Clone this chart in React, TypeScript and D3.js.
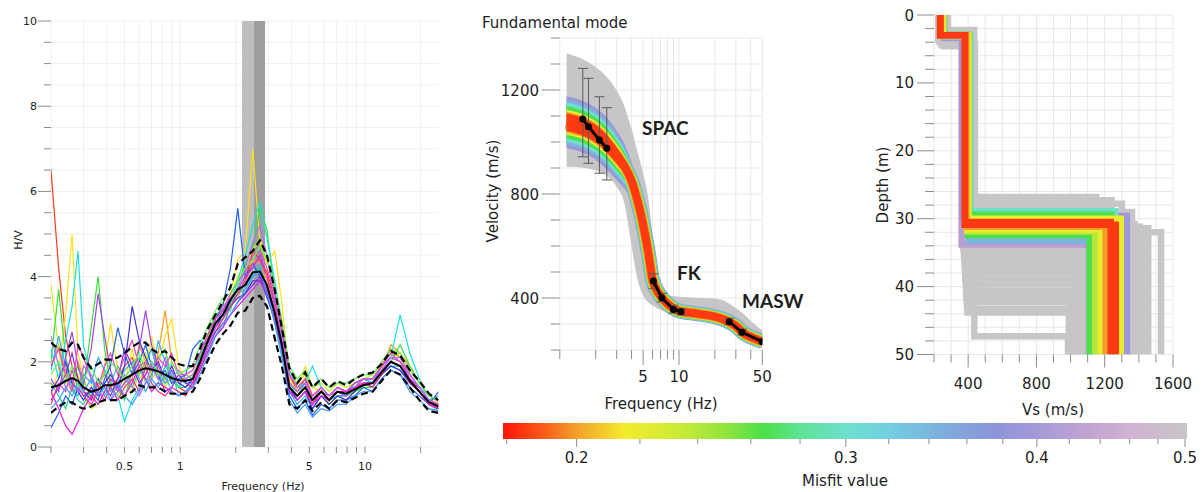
import * as d3 from "d3";

// Three panels: H/V curves, dispersion curves, Vs profiles + misfit colour bar

const FONT = "DejaVu Sans, Verdana, sans-serif";
const TICK = "#8c8c8c";
const TXT = "#1e1e1e";

// ---------- H/V data ----------
const HV_FREQ = [0.2, 0.22, 0.24, 0.26, 0.28, 0.3, 0.33, 0.36, 0.39, 0.42, 0.46, 0.5, 0.55, 0.6, 0.65, 0.7, 0.76, 0.83, 0.9, 0.98, 1.07, 1.17, 1.28, 1.4, 1.55, 1.7, 1.87, 2.05, 2.25, 2.47, 2.7, 2.95, 3.25, 3.55, 3.9, 4.3, 4.75, 5.2, 5.8, 6.4, 7.1, 7.9, 8.8, 9.8, 11, 12.3, 13.8, 15.5, 17.5, 19.7, 22.2, 25];
const HV_MEAN = [1.4, 1.45, 1.55, 1.62, 1.55, 1.4, 1.3, 1.35, 1.45, 1.45, 1.5, 1.6, 1.7, 1.8, 1.85, 1.82, 1.78, 1.7, 1.62, 1.57, 1.55, 1.6, 2.0, 2.45, 2.9, 3.1, 3.45, 3.7, 3.8, 4.1, 4.12, 3.8, 3.15, 2.4, 1.4, 1.2, 1.4, 1.1, 1.3, 1.1, 1.3, 1.25, 1.35, 1.45, 1.5, 1.75, 2.0, 1.9, 1.55, 1.3, 1.05, 0.95];
const HV_UPPER = [2.45, 2.3, 2.25, 2.45, 2.4, 2.1, 1.85, 1.95, 2.05, 2.05, 2.1, 2.2, 2.35, 2.45, 2.45, 2.3, 2.2, 2.25, 2.1, 1.95, 1.9, 1.9, 2.3, 2.75, 3.1, 3.4, 3.75, 4.3, 4.45, 4.6, 4.85, 4.5, 3.7, 2.8, 1.85, 1.5, 1.75, 1.4, 1.6, 1.4, 1.55, 1.45, 1.6, 1.7, 1.75, 1.95, 2.25, 2.15, 1.8, 1.55, 1.25, 1.1];
const HV_LOWER = [0.8, 0.95, 1.05, 1.05, 0.95, 0.9, 0.95, 1.05, 1.1, 1.1, 1.1, 1.2, 1.3, 1.45, 1.4, 1.4, 1.4, 1.3, 1.25, 1.25, 1.25, 1.3, 1.6, 2.0, 2.4, 2.65, 2.85, 3.15, 3.2, 3.5, 3.55, 3.3, 2.55, 1.9, 1.0, 0.9, 1.1, 0.85, 1.05, 0.9, 1.1, 1.05, 1.15, 1.25, 1.3, 1.55, 1.8, 1.7, 1.4, 1.1, 0.85, 0.8];
const HV_BAND_LIGHT = [2.16, 2.51];
const HV_BAND_DARK = [2.51, 2.88];

// single-window curves
const HV_C01 = [6.5, 4.2, 2.6, 1.9, 1.6, 1.3, 1.2, 1.5, 1.7, 1.4, 1.6, 1.9, 2.1, 1.7, 2.0, 2.3, 1.8, 1.5, 1.6, 1.4, 1.3, 1.5, 1.9, 2.3, 2.7, 3.0, 3.3, 3.6, 3.9, 4.6, 4.4, 4.1, 3.5, 2.8, 1.7, 1.3, 1.6, 1.2, 1.4, 1.2, 1.4, 1.3, 1.4, 1.6, 1.6, 1.9, 2.3, 2.1, 1.7, 1.4, 1.1, 1.0];
const HV_C02 = [1.9, 2.4, 1.8, 1.4, 2.0, 1.6, 1.1, 1.3, 1.8, 1.5, 1.3, 1.2, 1.6, 2.4, 2.0, 1.7, 2.2, 3.2, 2.0, 1.7, 1.5, 1.4, 1.8, 2.2, 2.6, 2.8, 3.4, 3.5, 3.9, 4.4, 4.3, 3.9, 3.4, 2.6, 1.6, 1.5, 1.7, 1.2, 1.4, 1.0, 1.2, 1.1, 1.3, 1.5, 1.4, 1.8, 2.4, 2.2, 1.9, 1.5, 1.2, 1.05];
const HV_C03 = [1.2, 1.8, 3.1, 5.0, 2.2, 1.7, 1.5, 1.2, 1.9, 2.9, 1.8, 1.5, 2.3, 1.6, 1.8, 2.6, 1.9, 2.6, 3.0, 1.9, 1.6, 1.5, 2.0, 2.5, 3.1, 3.2, 3.6, 4.4, 4.6, 7.0, 4.8, 4.3, 4.6, 3.4, 1.6, 1.3, 1.9, 1.4, 1.3, 1.2, 1.3, 1.2, 1.4, 1.5, 1.5, 1.9, 2.1, 2.2, 1.8, 1.5, 1.2, 1.1];
const HV_C04 = [3.8, 2.3, 1.6, 1.3, 1.7, 1.2, 0.9, 1.0, 1.3, 1.4, 1.2, 1.5, 1.3, 1.7, 2.2, 1.6, 1.8, 1.4, 1.7, 1.5, 1.6, 1.7, 2.1, 2.5, 3.0, 3.4, 3.5, 4.0, 4.3, 4.6, 4.9, 4.4, 3.7, 2.9, 1.8, 1.5, 1.7, 1.4, 1.5, 1.3, 1.5, 1.4, 1.5, 1.6, 1.7, 1.9, 2.2, 2.1, 1.6, 1.4, 1.1, 1.0];
const HV_C05 = [2.0, 3.7, 2.1, 1.5, 1.9, 1.4, 2.8, 4.0, 2.3, 1.5, 1.4, 1.1, 1.8, 2.1, 1.5, 1.7, 2.1, 2.3, 1.6, 1.4, 1.7, 1.6, 2.1, 2.6, 3.1, 3.2, 3.2, 3.8, 4.3, 4.7, 5.6, 5.1, 3.6, 2.5, 1.4, 1.1, 1.3, 1.0, 1.2, 1.0, 1.2, 1.2, 1.3, 1.4, 1.4, 1.8, 2.0, 2.4, 1.9, 1.5, 1.2, 1.1];
const HV_C06 = [1.5, 1.2, 0.9, 1.4, 1.1, 1.0, 1.3, 1.6, 1.2, 1.5, 1.9, 1.6, 1.4, 1.8, 1.6, 1.4, 1.5, 1.9, 1.7, 1.4, 1.4, 1.6, 1.9, 2.4, 2.9, 3.0, 3.4, 3.6, 3.7, 4.0, 4.2, 3.8, 3.2, 2.5, 1.5, 1.2, 1.5, 1.1, 1.3, 1.1, 1.3, 1.3, 1.4, 1.5, 1.5, 1.7, 1.9, 1.9, 1.5, 1.3, 1.0, 0.9];
const HV_C07 = [2.3, 1.6, 2.5, 3.3, 4.6, 2.4, 1.6, 1.3, 1.1, 1.4, 1.2, 0.6, 1.1, 1.4, 1.9, 2.3, 1.7, 1.5, 1.8, 1.2, 1.3, 1.5, 2.2, 2.4, 2.8, 3.0, 3.4, 3.9, 4.5, 5.2, 5.75, 4.9, 3.9, 2.9, 1.8, 1.4, 1.5, 1.9, 1.4, 1.2, 1.4, 1.3, 1.5, 1.6, 1.5, 1.9, 2.1, 3.1, 2.2, 1.6, 1.0, 0.85];
const HV_C08 = [1.8, 2.6, 1.9, 1.4, 1.2, 1.7, 1.5, 2.1, 1.8, 1.3, 1.5, 1.8, 2.0, 1.6, 1.3, 1.6, 2.5, 2.0, 1.5, 1.6, 1.5, 1.5, 1.8, 2.2, 2.6, 2.8, 3.3, 3.6, 3.8, 4.0, 4.3, 3.6, 2.9, 2.1, 1.3, 1.0, 1.2, 0.9, 1.2, 1.1, 1.2, 1.2, 1.5, 1.6, 1.5, 1.7, 1.9, 1.8, 1.5, 1.4, 1.1, 1.2];
const HV_C09 = [0.45, 0.8, 1.2, 1.0, 1.4, 1.2, 1.3, 1.1, 1.6, 1.9, 2.8, 2.2, 1.7, 2.0, 2.4, 1.9, 1.6, 1.8, 1.5, 1.6, 1.7, 2.3, 2.5, 2.4, 3.0, 3.3, 4.2, 5.6, 4.0, 4.3, 4.0, 3.5, 3.0, 2.3, 1.2, 0.9, 1.1, 0.75, 1.0, 0.9, 1.1, 1.1, 1.2, 1.4, 1.3, 1.6, 1.8, 1.7, 1.4, 1.2, 1.0, 1.3];
const HV_C10 = [1.3, 1.6, 2.0, 1.5, 1.3, 1.1, 1.4, 1.2, 1.5, 1.7, 1.4, 1.9, 3.3, 2.5, 2.1, 1.8, 2.0, 1.6, 1.9, 1.5, 1.4, 1.6, 2.0, 2.4, 2.8, 3.1, 3.3, 3.5, 3.6, 3.9, 3.9, 3.6, 3.0, 2.3, 1.4, 1.1, 1.3, 0.9, 1.2, 1.0, 1.2, 1.1, 1.3, 1.5, 1.4, 1.7, 1.9, 1.8, 1.5, 1.3, 1.0, 0.9];
const HV_C11 = [1.1, 1.4, 1.7, 2.2, 1.6, 1.3, 1.1, 1.6, 1.4, 1.2, 1.6, 2.3, 1.9, 1.5, 1.7, 2.0, 1.7, 1.3, 1.4, 1.7, 1.5, 1.4, 1.9, 2.3, 2.7, 2.9, 3.1, 3.4, 3.6, 3.8, 4.0, 3.7, 3.1, 2.4, 1.3, 1.2, 1.4, 1.0, 1.3, 1.1, 1.3, 1.2, 1.4, 1.5, 1.5, 1.8, 2.0, 1.9, 1.6, 1.3, 1.0, 0.9];
const HV_C12 = [1.6, 1.3, 2.1, 2.7, 1.9, 1.5, 2.3, 3.6, 2.6, 1.8, 1.3, 1.5, 1.7, 2.3, 3.2, 2.4, 1.9, 1.6, 1.8, 1.5, 1.6, 1.5, 2.0, 2.5, 2.9, 3.2, 3.5, 3.7, 4.0, 4.2, 4.5, 4.0, 3.4, 2.7, 1.5, 1.3, 1.5, 1.1, 1.3, 1.2, 1.4, 1.3, 1.4, 1.6, 1.6, 1.9, 2.1, 2.0, 1.6, 1.4, 1.1, 1.0];
const HV_C13 = [1.3, 0.9, 0.5, 0.3, 0.6, 0.9, 1.2, 1.0, 1.3, 1.6, 1.4, 1.2, 1.5, 1.9, 1.6, 1.3, 1.5, 1.4, 1.3, 1.2, 1.3, 1.4, 1.8, 2.2, 2.6, 2.8, 3.1, 3.3, 3.5, 3.7, 3.9, 3.6, 3.0, 2.3, 1.3, 1.1, 1.3, 1.0, 1.2, 1.1, 1.3, 1.3, 1.4, 1.5, 1.5, 1.8, 2.0, 1.9, 1.6, 1.3, 1.0, 0.9];
const HV_C14 = [1.9, 2.3, 1.7, 1.3, 2.4, 2.1, 1.6, 1.4, 1.9, 2.2, 1.7, 2.1, 2.5, 1.9, 2.0, 1.8, 2.1, 1.9, 2.2, 1.7, 1.7, 1.8, 2.2, 2.6, 3.0, 3.2, 3.6, 3.9, 4.1, 4.5, 4.6, 4.2, 3.6, 2.9, 1.7, 1.4, 1.6, 1.2, 1.4, 1.2, 1.4, 1.3, 1.5, 1.6, 1.6, 1.9, 2.2, 2.0, 1.7, 1.4, 1.1, 1.0];
const HV_C15 = [1.0, 1.5, 1.3, 1.8, 1.4, 1.2, 1.0, 1.3, 1.1, 1.4, 1.1, 1.4, 1.6, 1.3, 1.9, 1.5, 1.3, 1.2, 1.4, 1.3, 1.2, 1.5, 1.9, 2.4, 2.8, 3.0, 3.3, 3.6, 3.9, 4.3, 4.4, 4.0, 3.3, 2.6, 1.4, 1.2, 1.4, 1.0, 1.3, 1.1, 1.3, 1.2, 1.4, 1.5, 1.4, 1.7, 2.0, 1.9, 1.5, 1.3, 1.0, 0.9];
const HV_C16 = [2.6, 1.9, 1.4, 1.6, 1.3, 1.9, 1.7, 1.3, 1.2, 1.1, 1.3, 1.7, 1.4, 1.2, 1.5, 1.9, 1.6, 2.1, 1.6, 1.8, 1.6, 1.7, 2.0, 2.3, 2.8, 3.3, 3.5, 3.7, 4.2, 4.8, 5.2, 4.5, 3.5, 2.6, 1.5, 1.3, 1.5, 1.1, 1.4, 1.2, 1.3, 1.2, 1.4, 1.6, 1.6, 1.8, 2.1, 2.1, 1.7, 1.4, 1.1, 0.95];
const HV_C17 = [0.9, 1.1, 1.4, 1.2, 1.5, 1.3, 1.6, 1.2, 1.4, 1.1, 1.5, 1.2, 1.0, 1.3, 1.5, 1.6, 1.4, 1.7, 1.3, 1.2, 1.3, 1.4, 1.7, 2.1, 2.6, 2.9, 3.1, 3.4, 3.7, 4.0, 4.1, 3.7, 2.9, 2.2, 1.1, 0.8, 1.0, 0.7, 0.9, 0.85, 1.0, 1.0, 1.2, 1.3, 1.3, 1.6, 1.8, 1.7, 1.3, 1.1, 0.9, 0.85];
const HV_C18 = [1.7, 2.0, 1.5, 1.9, 1.4, 1.6, 1.9, 1.5, 1.7, 2.0, 1.8, 1.6, 1.9, 2.2, 1.8, 2.0, 1.7, 1.6, 2.0, 1.7, 1.8, 1.9, 2.4, 2.8, 3.2, 3.5, 3.6, 3.9, 4.2, 4.4, 4.7, 4.4, 3.8, 3.0, 1.9, 1.6, 1.8, 1.4, 1.6, 1.4, 1.5, 1.5, 1.6, 1.7, 1.7, 2.0, 2.3, 2.2, 1.8, 1.5, 1.2, 1.1];
const HV_CURVES = [HV_C01, HV_C02, HV_C03, HV_C04, HV_C05, HV_C06, HV_C07, HV_C08, HV_C09, HV_C10, HV_C11, HV_C12, HV_C13, HV_C14, HV_C15, HV_C16, HV_C17, HV_C18];
const HV_COLORS = ["#ff3a1a", "#ff9a1a", "#ffe01a", "#c8f020", "#38e038", "#20d890", "#18e0e0", "#30b0f0", "#2060f0", "#4030e8", "#8a2be2", "#a040f0", "#e020e0", "#f040c0", "#ff30a0", "#b070ff", "#40a0ff", "#60f060"];

// ---------- dispersion data ----------
const DISP_F = [1.14, 1.25, 1.5, 1.75, 2, 2.5, 3, 3.5, 4, 4.5, 5, 5.5, 6, 6.5, 7, 8, 9, 10, 12, 15, 20, 25, 30, 35, 40, 50];
const DISP_BEST = [1076, 1072, 1062, 1048, 1032, 992, 948, 905, 850, 772, 682, 580, 470, 430, 408, 378, 360, 350, 344, 338, 328, 313, 292, 264, 250, 233];
const DISP_GRAY_HI = [1340, 1335, 1322, 1306, 1288, 1248, 1198, 1135, 1050, 960, 880, 790, 640, 520, 440, 412, 408, 405, 403, 400, 398, 385, 362, 338, 312, 276];
const DISP_GRAY_LO = [905, 905, 902, 898, 890, 868, 828, 760, 600, 470, 410, 385, 372, 362, 355, 345, 338, 332, 327, 320, 303, 283, 262, 244, 230, 205];
const DISP_HW_PURPLE = [100, 100, 100, 100, 100, 100, 95, 85, 70, 55, 45, 38, 32, 28, 25, 22, 22, 22, 22, 22, 22, 22, 20, 20, 18, 16];
const DISP_HW_BLUE = [85, 85, 85, 85, 85, 85, 80, 72, 60, 48, 40, 34, 28, 25, 22, 20, 20, 20, 20, 20, 20, 20, 18, 18, 16, 15];
const DISP_HW_CYAN = [75, 75, 75, 75, 75, 74, 70, 63, 52, 42, 35, 30, 25, 22, 20, 18, 18, 18, 18, 18, 18, 18, 16, 16, 15, 14];
const DISP_HW_GREEN = [62, 62, 62, 62, 62, 60, 57, 52, 44, 36, 30, 26, 22, 20, 18, 17, 17, 17, 17, 17, 17, 16, 15, 15, 14, 13];
const DISP_HW_YELLOW = [48, 48, 48, 48, 48, 47, 45, 41, 35, 29, 25, 22, 19, 17, 16, 15, 15, 15, 15, 15, 15, 14, 14, 13, 13, 12];
const DISP_HW_ORANGE = [40, 40, 40, 40, 40, 39, 37, 34, 29, 25, 21, 19, 17, 15, 14, 14, 14, 14, 14, 14, 14, 13, 13, 12, 12, 11];
const DISP_HW_RED = [34, 34, 34, 34, 34, 33, 31, 28, 25, 21, 18, 16, 15, 14, 13, 13, 13, 13, 13, 13, 13, 12, 12, 11, 11, 10];
const DISP_LEVEL_HW = [DISP_HW_PURPLE, DISP_HW_BLUE, DISP_HW_CYAN, DISP_HW_GREEN, DISP_HW_YELLOW, DISP_HW_ORANGE, DISP_HW_RED];
const DISP_LEVEL_MISFIT = [0.39, 0.34, 0.3, 0.265, 0.22, 0.2, 0.185];
const DISP_LEVEL_WIDTH = [15, 14, 13, 12, 11, 10, 8];

const SPAC_F = [1.56, 1.74, 2.15, 2.48];
const SPAC_V = [1088, 1059, 1008, 976];
const SPAC_LO = [943, 918, 880, 854];
const SPAC_HI = [1283, 1245, 1174, 1132];
const FK_F = [6.1, 7.18, 8.99, 10.4];
const FK_V = [465, 401, 356, 347];
const FK_LO = [437, 385, 342, 335];
const FK_HI = [493, 418, 372, 360];
const MASW_F = [26.4, 33.8, 50];
const MASW_V = [309, 268, 232];
const MASW_LO = [298, 258, 224];
const MASW_HI = [322, 280, 242];

// ---------- Vs profiles (3-layer models) ----------
const PROF_VS1 = [270, 280, 230, 260, 250, 240, 275, 265, 245, 255, 235, 262, 248, 272, 238, 258, 244, 268, 252, 242, 266, 250, 225, 258, 252, 260, 250, 255, 248, 252, 256, 245, 250, 240, 235, 238];
const PROF_H1 = [4.5, 2.2, 3.8, 4.2, 2.6, 3.5, 4.0, 3.0, 4.4, 3.3, 4.1, 3.6, 2.8, 3.9, 3.2, 4.6, 3.7, 2.9, 4.3, 3.4, 3.1, 4.0, 3.5, 3.6, 3.2, 3.4, 3.0, 3.1, 3.0, 2.9, 3.0, 3.1, 3.0, 3.0, 3.0, 3.0];
const PROF_VS2 = [440, 435, 430, 420, 425, 415, 410, 400, 405, 372, 375, 378, 380, 382, 384, 386, 388, 390, 392, 394, 396, 436, 365, 418, 362, 368, 405, 412, 406, 400, 398, 402, 396, 390, 382, 380];
const PROF_D2 = [26.8, 27.3, 27.8, 28.2, 30.8, 31.2, 31.6, 31.4, 32.0, 34.3, 35.2, 36.1, 37.0, 37.9, 38.8, 39.7, 40.6, 41.5, 42.3, 43.3, 43.8, 47.3, 33.0, 29.0, 33.8, 29.6, 33.2, 28.9, 29.4, 32.4, 31.9, 30.0, 31.6, 31.2, 30.5, 30.9];
const PROF_VS3 = [1150, 1240, 1300, 1200, 1375, 1405, 1440, 1455, 1530, 1090, 1080, 1070, 1060, 1050, 1040, 1030, 1020, 1010, 1000, 995, 990, 985, 1345, 1360, 1108, 1330, 1112, 1260, 1240, 1112, 1145, 1294, 1178, 1205, 1235, 1265];
const PROF_MISFIT = [0.5, 0.5, 0.5, 0.5, 0.5, 0.5, 0.5, 0.5, 0.5, 0.5, 0.5, 0.5, 0.5, 0.5, 0.5, 0.5, 0.5, 0.5, 0.5, 0.5, 0.5, 0.5, 0.5, 0.5, 0.42, 0.39, 0.34, 0.3, 0.265, 0.265, 0.24, 0.22, 0.22, 0.2, 0.185, 0.185];

// ---------- colour map ----------
const CMAP_STOPS = [0.18, 0.19, 0.2, 0.215, 0.235, 0.25, 0.265, 0.28, 0.3, 0.32, 0.345, 0.375, 0.4, 0.43, 0.46, 0.5];
const CMAP_COLORS = ["#ff1a0a", "#fa5a18", "#f2a02a", "#f4ec2c", "#c6ea38", "#92e43e", "#4ce04a", "#5ee294", "#6ee0cc", "#72cfe2", "#7cb0dc", "#8c94d8", "#a49ad8", "#c0a2d2", "#d0b2d2", "#c8c5c8"];
const CBAR_LABELS = [0.2, 0.3, 0.4, 0.5];

const cmap = d3.scaleLinear<string>().domain(CMAP_STOPS).range(CMAP_COLORS).clamp(true);

// scales
const xL = d3.scaleLog().domain([0.2, 25]).range([51, 438.5]);
const yL = d3.scaleLinear().domain([0, 10]).range([447, 21]);
const xM = d3.scaleLog().domain([1, 50]).range([559.8, 762.3]);
const yM = d3.scaleLinear().domain([200, 1400]).range([350, 38]);
const xR = d3.scaleLinear().domain([200, 1600]).range([934, 1173]);
const yR = d3.scaleLinear().domain([0, 50]).range([15, 354.5]);
const xC = d3.scaleLog().domain([0.179, 0.5015]).range([503, 1187]);

function HVPanel() {
  const [x0, x1] = xL.range();
  const [yb, yt] = yL.range();
  const line = d3
    .line<number>()
    .x((_d, i) => xL(HV_FREQ[i]))
    .y((d) => yL(d));
  return (
    <g>
      <defs>
        <clipPath id="clipL">
          <rect x={x0} y={yt} width={x1 - x0} height={yb - yt} />
        </clipPath>
      </defs>
      {xL.ticks().map((t) => (
        <line key={"gx" + t} x1={xL(t)} x2={xL(t)} y1={yt} y2={yb} stroke="#f0f0f0" />
      ))}
      {yL.ticks(20).map((t) => (
        <line key={"gy" + t} x1={x0} x2={x1} y1={yL(t)} y2={yL(t)} stroke="#f0f0f0" />
      ))}
      <rect x={xL(HV_BAND_LIGHT[0])} y={yt} width={xL(HV_BAND_LIGHT[1]) - xL(HV_BAND_LIGHT[0])} height={yb - yt} fill="#bebebe" />
      <rect x={xL(HV_BAND_DARK[0])} y={yt} width={xL(HV_BAND_DARK[1]) - xL(HV_BAND_DARK[0])} height={yb - yt} fill="#9e9e9e" />
      <g clipPath="url(#clipL)" fill="none">
        {HV_CURVES.map((c, i) => (
          <path key={i} d={line(c) || ""} stroke={HV_COLORS[i]} strokeWidth={1.2} />
        ))}
        <path d={line(HV_UPPER) || ""} stroke="#000" strokeWidth={2.2} strokeDasharray="7 4" />
        <path d={line(HV_LOWER) || ""} stroke="#000" strokeWidth={2.2} strokeDasharray="7 4" />
        <path d={line(HV_MEAN) || ""} stroke="#000" strokeWidth={2} />
      </g>
      {/* y axis */}
      {yL.ticks(20).map((t) => {
        const major = Math.abs(t % 2) < 1e-6;
        return <line key={"ty" + t} x1={x0 - (major ? 13 : 7)} x2={x0} y1={yL(t)} y2={yL(t)} stroke={TICK} />;
      })}
      {[0, 2, 4, 6, 8, 10].map((t) => (
        <text key={"ly" + t} x={37} y={yL(t) + 4} textAnchor="end" fontSize={11} fill={TXT}>
          {t}
        </text>
      ))}
      {/* x axis */}
      {xL.ticks().map((t) => (
        <line key={"tx" + t} x1={xL(t)} x2={xL(t)} y1={yb} y2={yb + 6} stroke={TICK} />
      ))}
      {[0.5, 1, 5, 10].map((t) => (
        <text key={"lx" + t} x={xL(t)} y={470} textAnchor="middle" fontSize={11} fill={TXT}>
          {t}
        </text>
      ))}
      <text x={263} y={490} textAnchor="middle" fontSize={11} fill={TXT}>
        Frequency (Hz)
      </text>
      <text transform={`translate(18,240) rotate(-90)`} textAnchor="middle" dy="0.35em" fontSize={11} fill={TXT}>
        H/V
      </text>
    </g>
  );
}

function DispersionPanel() {
  const [x0, x1] = xM.range();
  const [yb, yt] = yM.range();
  const center = d3
    .line<number>()
    .x((_d, i) => xM(DISP_F[i]))
    .y((d) => yM(d))
    .curve(d3.curveMonotoneX);
  const band = (lo: number[], hi: number[]) =>
    d3
      .area<number>()
      .x((_d, i) => xM(DISP_F[i]))
      .y0((_d, i) => yM(lo[i]))
      .y1((_d, i) => yM(hi[i]))
      .curve(d3.curveMonotoneX)(DISP_F) || "";
  const pts = d3
    .line<number>()
    .x((d) => xM(d));
  const groups = [
    { f: SPAC_F, v: SPAC_V, lo: SPAC_LO, hi: SPAC_HI },
    { f: FK_F, v: FK_V, lo: FK_LO, hi: FK_HI },
    { f: MASW_F, v: MASW_V, lo: MASW_LO, hi: MASW_HI },
  ];
  return (
    <g>
      <defs>
        <clipPath id="clipM">
          <rect x={x0} y={yt} width={x1 - x0} height={yb - yt} />
        </clipPath>
      </defs>
      {xM.ticks().map((t) => (
        <line key={"gx" + t} x1={xM(t)} x2={xM(t)} y1={yt} y2={yb} stroke="#e8e8e8" />
      ))}
      {yM.ticks(12).map((t) => (
        <line key={"gy" + t} x1={x0} x2={x1} y1={yM(t)} y2={yM(t)} stroke="#e8e8e8" />
      ))}
      <g clipPath="url(#clipM)">
        <path d={band(DISP_GRAY_LO, DISP_GRAY_HI)} fill={cmap(0.5)} />
        {DISP_LEVEL_HW.map((hw, k) => {
          const lo = DISP_BEST.map((v, i) => v - hw[i]);
          const hi = DISP_BEST.map((v, i) => v + hw[i]);
          const col = cmap(DISP_LEVEL_MISFIT[k]);
          return (
            <g key={k}>
              <path d={band(lo, hi)} fill={col} />
              <path d={center(DISP_BEST) || ""} fill="none" stroke={col} strokeWidth={DISP_LEVEL_WIDTH[k]} strokeLinejoin="round" />
            </g>
          );
        })}
        {groups.map((g, gi) => (
          <g key={gi}>
            {g.f.map((f, i) => (
              <g key={i} stroke="#5a5a5a" strokeWidth={1}>
                <line x1={xM(f)} x2={xM(f)} y1={yM(g.lo[i])} y2={yM(g.hi[i])} />
                <line x1={xM(f) - 5} x2={xM(f) + 5} y1={yM(g.lo[i])} y2={yM(g.lo[i])} />
                <line x1={xM(f) - 5} x2={xM(f) + 5} y1={yM(g.hi[i])} y2={yM(g.hi[i])} />
              </g>
            ))}
            <path
              d={pts.y((_d, i) => yM(g.v[i]))(g.f) || ""}
              fill="none"
              stroke="#000"
              strokeWidth={3}
            />
            {g.f.map((f, i) => (
              <circle key={"c" + i} cx={xM(f)} cy={yM(g.v[i])} r={3.5} fill="#000" />
            ))}
          </g>
        ))}
      </g>
      {/* axes */}
      {yM.ticks(12).map((t) => {
        const major = t % 400 === 0;
        return <line key={"ty" + t} x1={x0 - (major ? 18 : 9)} x2={x0} y1={yM(t)} y2={yM(t)} stroke={TICK} />;
      })}
      {[400, 800, 1200].map((t) => (
        <text key={"ly" + t} x={539} y={yM(t) + 5.5} textAnchor="end" fontSize={15} fill={TXT}>
          {t}
        </text>
      ))}
      {xM.ticks().map((t) => {
        const major = t === 5 || t === 10 || t === 50;
        return <line key={"tx" + t} x1={xM(t)} x2={xM(t)} y1={yb} y2={yb + (major ? 15 : 9)} stroke={TICK} />;
      })}
      {[5, 10, 50].map((t) => (
        <text key={"lx" + t} x={xM(t)} y={382} textAnchor="middle" fontSize={15} fill={TXT}>
          {t}
        </text>
      ))}
      <text x={661} y={409} textAnchor="middle" fontSize={15} fill={TXT}>
        Frequency (Hz)
      </text>
      <text transform={`translate(493,191) rotate(-90)`} textAnchor="middle" dy="0.35em" fontSize={15} fill={TXT}>
        Velocity (m/s)
      </text>
      <text x={482} y={28} fontSize={15} fill={TXT}>
        Fundamental mode
      </text>
      <g fontFamily="Lato, Open Sans, sans-serif" fontWeight="bold" fontSize={19} fill={TXT}>
        <text x={642} y={135}>SPAC</text>
        <text x={677} y={280}>FK</text>
        <text x={742} y={308}>MASW</text>
      </g>
    </g>
  );
}

function ProfilePanel() {
  const [x0, x1] = xR.range();
  const [yt, yb] = yR.range();
  const line = d3
    .line<[number, number]>()
    .x((d) => xR(d[0]))
    .y((d) => yR(d[1]));
  const order = d3.range(PROF_VS1.length).sort((a, b) => PROF_MISFIT[b] - PROF_MISFIT[a] || a - b);
  return (
    <g>
      <defs>
        <clipPath id="clipR">
          <rect x={x0} y={yt} width={x1 - x0} height={yb - yt} />
        </clipPath>
      </defs>
      {xR.ticks(14).map((t) => (
        <line key={"gx" + t} x1={xR(t)} x2={xR(t)} y1={yt} y2={yb} stroke="#e8e8e8" />
      ))}
      {yR.ticks(25).map((t) => (
        <line key={"gy" + t} x1={x0} x2={x1} y1={yR(t)} y2={yR(t)} stroke="#e8e8e8" />
      ))}
      <g clipPath="url(#clipR)" fill="none" strokeWidth={6.5} strokeLinejoin="miter">
        {order.map((i) => {
          const p: [number, number][] = [
            [PROF_VS1[i], 0],
            [PROF_VS1[i], PROF_H1[i]],
            [PROF_VS2[i], PROF_H1[i]],
            [PROF_VS2[i], PROF_D2[i]],
            [PROF_VS3[i], PROF_D2[i]],
            [PROF_VS3[i], 50],
          ];
          return <path key={i} d={line(p) || ""} stroke={cmap(PROF_MISFIT[i])} />;
        })}
      </g>
      {yR.ticks(25).map((t) => {
        const major = t % 10 === 0;
        return <line key={"ty" + t} x1={x0 - (major ? 17 : 9)} x2={x0} y1={yR(t)} y2={yR(t)} stroke={TICK} />;
      })}
      {[0, 10, 20, 30, 40, 50].map((t) => (
        <text key={"ly" + t} x={914} y={yR(t) + 5.5} textAnchor="end" fontSize={15} fill={TXT}>
          {t}
        </text>
      ))}
      {xR.ticks(14).map((t) => {
        const major = t % 400 === 0;
        return <line key={"tx" + t} x1={xR(t)} x2={xR(t)} y1={yb} y2={yb + (major ? 13 : 8)} stroke={TICK} />;
      })}
      {[400, 800, 1200, 1600].map((t) => (
        <text key={"lx" + t} x={xR(t)} y={389} textAnchor="middle" fontSize={15} fill={TXT}>
          {t}
        </text>
      ))}
      <text x={1053} y={415} textAnchor="middle" fontSize={15} fill={TXT}>
        Vs (m/s)
      </text>
      <text transform={`translate(883,185) rotate(-90)`} textAnchor="middle" dy="0.35em" fontSize={15} fill={TXT}>
        Depth (m)
      </text>
    </g>
  );
}

function ColorBar() {
  const [c0, c1] = xC.range();
  const ticks = d3.range(0.18, 0.5001, 0.02);
  return (
    <g>
      <defs>
        <linearGradient id="cbar" x1="0" x2="1" y1="0" y2="0">
          {CMAP_STOPS.map((s, i) => (
            <stop key={i} offset={Math.max(0, (xC(s) - c0) / (c1 - c0))} stopColor={CMAP_COLORS[i]} />
          ))}
        </linearGradient>
      </defs>
      <rect x={c0} y={423} width={c1 - c0} height={16} fill="url(#cbar)" />
      {ticks.map((t, i) => {
        const major = CBAR_LABELS.some((l) => Math.abs(l - t) < 1e-6);
        return <line key={i} x1={xC(t)} x2={xC(t)} y1={439} y2={major ? 447 : 444} stroke={TICK} />;
      })}
      {CBAR_LABELS.map((t) => (
        <text key={t} x={xC(t)} y={463} textAnchor="middle" fontSize={15} fill={TXT}>
          {t.toFixed(1)}
        </text>
      ))}
      <text x={845} y={486} textAnchor="middle" fontSize={15} fill={TXT}>
        Misfit value
      </text>
    </g>
  );
}

export default function App() {
  return (
    <svg
      width={1204}
      height={492}
      fontFamily={FONT}
      style={{ position: "absolute", left: 0, top: 0, background: "#fff" }}
    >
      <HVPanel />
      <DispersionPanel />
      <ProfilePanel />
      <ColorBar />
    </svg>
  );
}
